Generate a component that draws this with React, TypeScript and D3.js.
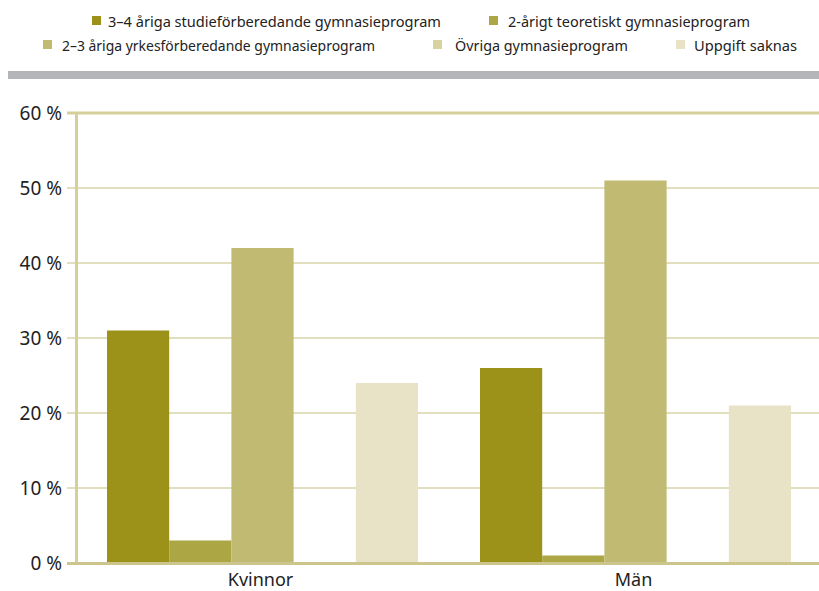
import React from "react";
import * as d3 from "d3";

const categories = ["Kvinnor", "Män"];
const seriesNames = [
  "3–4 åriga studieförberedande gymnasieprogram",
  "2-årigt teoretiskt gymnasieprogram",
  "2–3 åriga yrkesförberedande gymnasieprogram",
  "Övriga gymnasieprogram",
  "Uppgift saknas",
];
const kvinnorValues = [31, 3, 42, 0, 24];
const manValues = [26, 1, 51, 0, 21];
const yTicks = [0, 10, 20, 30, 40, 50, 60];
const colors = ["#9C921A", "#ACA644", "#C1BA72", "#D8D39E", "#E8E3C6"];

const W = 819;
const H = 591;
const FONT = "'Noto Sans', 'Open Sans', sans-serif";

export default function App() {
  const values = [kvinnorValues, manValues];
  const y = d3.scaleLinear().domain([0, 60]).range([563, 113]);
  const x0 = d3
    .scaleBand<string>()
    .domain(categories)
    .range([76, 822])
    .paddingInner(62 / 373)
    .paddingOuter(31 / 373);
  const x1 = d3
    .scaleBand<string>()
    .domain(seriesNames)
    .range([0, x0.bandwidth()])
    .padding(0);

  const legendItems = [
    { i: 0, sx: 92, tx: 108, w: 333, row: 0 },
    { i: 1, sx: 489, tx: 508, w: 242, row: 0 },
    { i: 2, sx: 43, tx: 62, w: 313, row: 1 },
    { i: 3, sx: 433, tx: 455, w: 173, row: 1 },
    { i: 4, sx: 676, tx: 694, w: 103, row: 1 },
  ];
  const rowY = [21, 45];

  return (
    <svg
      width={W}
      height={H}
      style={{ position: "absolute", left: 0, top: 0, background: "#fff" }}
      fontFamily={FONT}
    >
      {legendItems.map((d) => (
        <g key={d.i}>
          <rect x={d.sx} y={rowY[d.row] - 5} width={9} height={9} fill={colors[d.i]} />
          <text
            x={d.tx}
            y={rowY[d.row]}
            dominantBaseline="central"
            fontSize={14.5}
            fill="#222"
            textLength={d.w}
            lengthAdjust="spacingAndGlyphs"
          >
            {seriesNames[d.i]}
          </text>
        </g>
      ))}
      <rect x={8} y={71} width={W - 8} height={8} fill="#B4B5B8" />

      {yTicks.map((t) => (
        <g key={t}>
          {t > 0 && (
            <line
              x1={67}
              x2={W}
              y1={y(t)}
              y2={y(t)}
              stroke={t === 60 ? "#D5CF9A" : "#E2DFBE"}
              strokeWidth={t === 60 ? 3 : 2}
            />
          )}
          <text
            x={62}
            y={y(t)}
            textAnchor="end"
            dominantBaseline="central"
            fontSize={19}
            fill="#222"
          >
            {`${t} %`}
          </text>
        </g>
      ))}

      {categories.map((c, ci) => (
        <g key={c} transform={`translate(${x0(c)},0)`}>
          {seriesNames.map((s, si) => {
            const v = values[ci][si];
            return (
              <rect
                key={s}
                x={x1(s)}
                y={y(v)}
                width={x1.bandwidth()}
                height={y(0) - y(v)}
                fill={colors[si]}
              />
            );
          })}
        </g>
      ))}

      <line x1={76.5} x2={76.5} y1={113} y2={563} stroke="#D5CF9A" strokeWidth={3} />
      <line x1={67} x2={W} y1={563.5} y2={563.5} stroke="#CCC68C" strokeWidth={3} />

      {categories.map((c) => (
        <text
          key={c}
          x={(x0(c) as number) + x0.bandwidth() / 2 - 2}
          y={579}
          textAnchor="middle"
          dominantBaseline="central"
          fontSize={18}
          fill="#222"
        >
          {c}
        </text>
      ))}
    </svg>
  );
}
